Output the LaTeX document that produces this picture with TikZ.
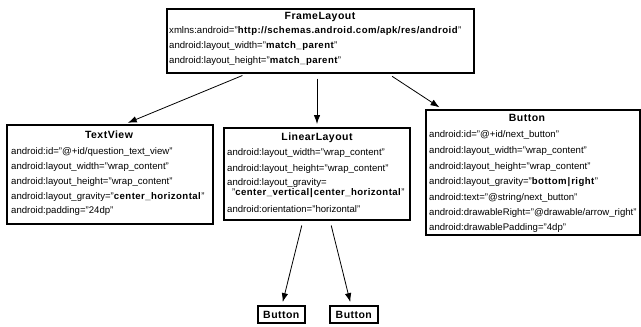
\documentclass[tikz,border=0pt]{standalone}
\usepackage{fontspec}
\setmainfont{Liberation Sans}[BoldFeatures={LetterSpace=4.5}]
\usetikzlibrary{arrows.meta}
\newcommand{\barsep}{\kern1pt|\kern1pt}
\begin{document}
\begin{tikzpicture}[x=1pt,y=-1pt,
  box/.style={draw, line width=1.6pt, inner sep=0pt, anchor=north west},
  ttl/.style={font=\fontsize{10.5}{12}\selectfont\bfseries, inner sep=0pt, anchor=center, text height=7.6pt, text depth=0pt},
  ln/.style={font=\fontsize{9.6}{11}\selectfont, inner sep=0pt, anchor=west, text height=7pt, text depth=2pt},
  arr/.style={line width=0.8pt, -{Latex[length=9pt,width=6.5pt]}, shorten <=5pt, shorten >=3pt}]
\useasboundingbox (0,0) rectangle (641,327);
\fill[white] (0,0) rectangle (641,327);
% boxes
\node[box, minimum width=307pt, minimum height=64pt] (fl) at (166,8) {};
\node[box, minimum width=206pt, minimum height=99pt] (tv) at (6,124) {};
\node[box, minimum width=186pt, minimum height=92pt] (ll) at (223,127) {};
\node[box, minimum width=214pt, minimum height=125pt] (bt) at (425,109) {};
\node[box, minimum width=47pt, minimum height=17pt] (b1) at (257,305) {};
\node[box, minimum width=48pt, minimum height=17pt] (b2) at (329,305) {};
% FrameLayout text
\node[ttl] (flt) at (320,16) {FrameLayout};
\node[ln] (fl1) at (169,31) {xmlns:android="\textbf{http://schemas.android.com/apk/res/android}"};
\node[ln] (fl2) at (169,46) {android:layout\_width="\textbf{match\_parent}"};
\node[ln] (fl3) at (169,61) {android:layout\_height="\textbf{match\_parent}"};
% TextView text
\node[ttl] (tvt) at (109,135) {TextView};
\node[ln] (tv1) at (11,152) {android:id="@+id/question\_text\_view"};
\node[ln] (tv2) at (11,167) {android:layout\_width="wrap\_content"};
\node[ln] (tv3) at (11,182) {android:layout\_height="wrap\_content"};
\node[ln] (tv4) at (11,197) {android:layout\_gravity="\textbf{center\_horizontal}"};
\node[ln] (tv5) at (11,211) {android:padding="24dp"};
% LinearLayout text
\node[ttl] (llt) at (317,137) {LinearLayout};
\node[ln] (ll1) at (227,153) {android:layout\_width="wrap\_content"};
\node[ln] (ll2) at (227,169) {android:layout\_height="wrap\_content"};
\node[ln] (ll3) at (227,183) {android:layout\_gravity=};
\node[ln] (ll4) at (232,193) {"\textbf{center\_vertical\barsep center\_horizontal}"};
\node[ln] (ll5) at (227,210) {android:orientation="horizontal"};
% Button text
\node[ttl] (btt) at (527,118) {Button};
\node[ln] (bt1) at (429,135) {android:id="@+id/next\_button"};
\node[ln] (bt2) at (429,151) {android:layout\_width="wrap\_content"};
\node[ln] (bt3) at (429,167) {android:layout\_height="wrap\_content"};
\node[ln] (bt4) at (429,182) {android:layout\_gravity="\textbf{bottom\barsep right}"};
\node[ln] (bt5) at (429,198) {android:text="@string/next\_button"};
\node[ln] (bt6) at (429,213) {android:drawableRight="@drawable/arrow\_right"};
\node[ln] (bt7) at (429,228) {android:drawablePadding="4dp"};
% small buttons text
\node[ttl] (b1t) at (b1.center) {Button};
\node[ttl] (b2t) at (b2.center) {Button};
% arrows
\draw[arr] ([xshift=81pt]fl.south west) -- ([xshift=119pt]tv.north west);
\draw[arr] ([xshift=151pt]fl.south west) -- ([xshift=94pt]ll.north west);
\draw[arr] ([xshift=222pt]fl.south west) -- ([xshift=17pt]bt.north west);
\draw[arr] ([xshift=80pt]ll.south west) -- ([xshift=25pt]b1.north west);
\draw[arr] ([xshift=107pt]ll.south west) -- ([xshift=22pt]b2.north west);
\end{tikzpicture}
\end{document}
